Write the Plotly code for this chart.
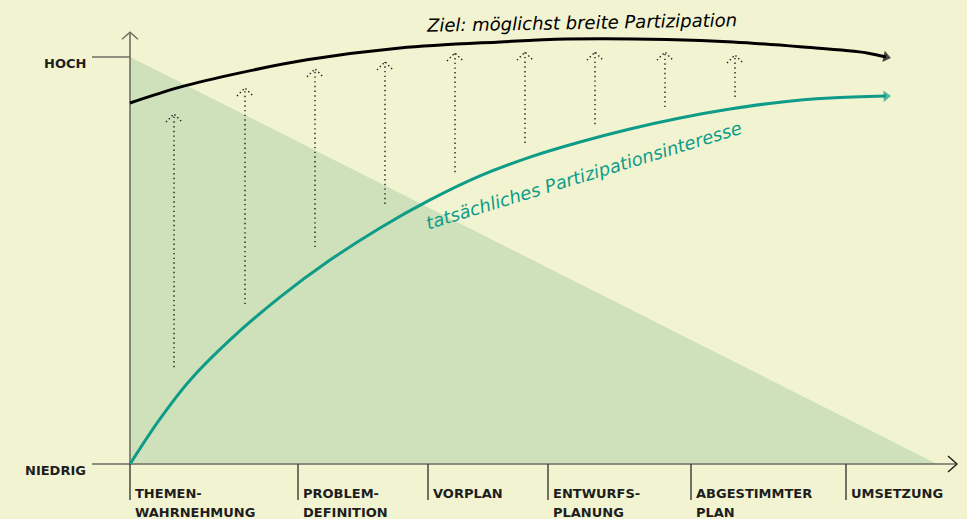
import plotly.graph_objects as go

# ---------------- data ----------------
# x: position along the planning process (0 = start), y: participation level (0 = NIEDRIG, 1 = HOCH)
ziel_x = [0, 50, 110, 177, 270, 370, 437, 537, 603, 670, 737, 756]
ziel_y = [0.887, 0.926, 0.961, 0.993, 1.022, 1.037, 1.044, 1.043, 1.037, 1.025, 1.010, 1.000]

interesse_x = [0, 30, 60, 100, 150, 200, 250, 300, 350, 400, 450, 500, 550, 600, 650, 700, 756]
interesse_y = [0.0, 0.111, 0.206, 0.305, 0.410, 0.501, 0.580, 0.649, 0.708, 0.754, 0.791, 0.823,
               0.850, 0.872, 0.889, 0.899, 0.904]

# influence potential (triangle)
einfluss_x = [0, 0, 807]
einfluss_y = [1.0, 0.0, 0.0]

# gap arrows (dotted)
luecke_x = [44, 115, 185, 255, 325, 395, 465, 535, 605]
luecke_von = [0.238, 0.393, 0.533, 0.639, 0.717, 0.789, 0.835, 0.877, 0.902]
luecke_bis = [0.860, 0.924, 0.971, 0.988, 1.010, 1.012, 1.012, 1.012, 1.005]

# process phases
phasen_start = [0, 168, 298, 418, 561, 716]
phasen_labels = [["THEMEN-", "WAHRNEHMUNG"], ["PROBLEM-", "DEFINITION"], ["VORPLAN"],
                 ["ENTWURFS-", "PLANUNG"], ["ABGESTIMMTER", "PLAN"], ["UMSETZUNG"]]

niveau_werte = [1.0, 0.0]
niveau_labels = ["HOCH", "NIEDRIG"]

x_achse_ende = 827
y_achse_ende = 1.061

# ---------------- style ----------------
BG = "#F2F4D1"
TRI = "#CEE1BA"
TEAL = "#0E9C88"
AXIS = "#6E6E60"
DARK = "#1E1E1E"
PX_Y = 1 / 407.0  # one pixel in y units

fig = go.Figure()

# triangle
fig.add_trace(go.Scatter(x=einfluss_x, y=einfluss_y, fill="toself", fillcolor=TRI,
                         mode="lines", line=dict(width=0), hoverinfo="skip"))

# axes
fig.add_trace(go.Scatter(x=[0, 0], y=[0, y_achse_ende], mode="lines",
                         line=dict(color=AXIS, width=1.6), hoverinfo="skip"))
fig.add_trace(go.Scatter(x=[0, x_achse_ende], y=[0, 0], mode="lines",
                         line=dict(color=AXIS, width=1.6), hoverinfo="skip"))
# axis chevrons
fig.add_trace(go.Scatter(x=[-8, 0, 8], y=[y_achse_ende - 7 * PX_Y, y_achse_ende, y_achse_ende - 7 * PX_Y],
                         mode="lines", line=dict(color=AXIS, width=1.4), hoverinfo="skip"))
fig.add_trace(go.Scatter(x=[x_achse_ende - 9, x_achse_ende, x_achse_ende - 9],
                         y=[8 * PX_Y, 0, -8 * PX_Y],
                         mode="lines", line=dict(color=DARK, width=1.4), hoverinfo="skip"))

# level ticks
tx, ty = [], []
for v in niveau_werte:
    tx += [-38, 0, None]
    ty += [v, v, None]
fig.add_trace(go.Scatter(x=tx, y=ty, mode="lines", line=dict(color=AXIS, width=1.6), hoverinfo="skip"))

# phase separators
sx, sy = [], []
for p in phasen_start:
    sx += [p, p, None]
    sy += [0, -36 * PX_Y, None]
fig.add_trace(go.Scatter(x=sx, y=sy, mode="lines", line=dict(color="#3A3A34", width=1.4), hoverinfo="skip"))

# dotted gap arrows
ax, ay, hx, hy = [], [], [], []
for x, a, b in zip(luecke_x, luecke_von, luecke_bis):
    ax += [x, x, None]
    ay += [a, b, None]
    hx += [x - 8, x, x + 8, None]
    hy += [b - 8 * PX_Y, b, b - 8 * PX_Y, None]
fig.add_trace(go.Scatter(x=ax, y=ay, mode="lines",
                         line=dict(color=DARK, width=1.4, dash="1.4px,3.3px"), hoverinfo="skip"))
fig.add_trace(go.Scatter(x=hx, y=hy, mode="lines",
                         line=dict(color=DARK, width=1.4, dash="1.4px,2.6px"), hoverinfo="skip"))

# curves
fig.add_trace(go.Scatter(x=ziel_x, y=ziel_y, mode="lines", line=dict(color="#000000", width=3, shape="spline"),
                         hoverinfo="skip"))
fig.add_trace(go.Scatter(x=interesse_x, y=interesse_y, mode="lines",
                         line=dict(color=TEAL, width=3, shape="spline", smoothing=1.0), hoverinfo="skip"))
# arrow heads
fig.add_trace(go.Scatter(x=ziel_x[-2:], y=ziel_y[-2:], mode="markers",
                         marker=dict(symbol="triangle-up", size=[0, 10], color="#000000", angleref="previous",
                                     line=dict(width=0)), hoverinfo="skip"))
fig.add_trace(go.Scatter(x=interesse_x[-2:], y=interesse_y[-2:], mode="markers",
                         marker=dict(symbol="triangle-up", size=[0, 10], color=TEAL, angleref="previous",
                                     line=dict(width=0)), hoverinfo="skip"))

annotations = []
# level labels
for v, lab in zip(niveau_werte, niveau_labels):
    annotations.append(dict(x=-42, y=v - 6 * PX_Y, text=lab, xanchor="right", yanchor="middle", showarrow=False,
                            font=dict(family="DejaVu Sans", size=13, color=DARK, weight="bold")))
# phase labels
for p, lines in zip(phasen_start, phasen_labels):
    for i, line in enumerate(lines):
        annotations.append(dict(x=p + 3, y=-(29 + 19 * i) * PX_Y, text=line, xanchor="left", yanchor="middle",
                                showarrow=False,
                                font=dict(family="DejaVu Sans", size=13, color=DARK, weight="bold")))
# curve labels
annotations.append(dict(x=451, y=(464 - 22) * PX_Y, text="Ziel: möglichst breite Partizipation",
                        textangle=-1, showarrow=False, xanchor="center", yanchor="middle",
                        font=dict(family="DejaVu Sans", size=18, color="#000000", style="italic")))
annotations.append(dict(x=453, y=(464 - 175) * PX_Y, text="tatsächliches Partizipationsinteresse",
                        textangle=-17, showarrow=False, xanchor="center", yanchor="middle",
                        font=dict(family="DejaVu Sans", size=18, color=TEAL, style="italic")))

fig.update_layout(
    width=967, height=519, margin=dict(l=0, r=0, t=0, b=0),
    paper_bgcolor=BG, plot_bgcolor=BG, showlegend=False,
    xaxis=dict(range=[-130, 837], visible=False, fixedrange=True),
    yaxis=dict(range=[-55 * PX_Y, 464 * PX_Y], visible=False, fixedrange=True),
    annotations=annotations,
)

fig.write_html("out.html", config={"displayModeBar": False},
               post_script="document.body.style.margin='0';document.body.style.overflow='hidden';")
